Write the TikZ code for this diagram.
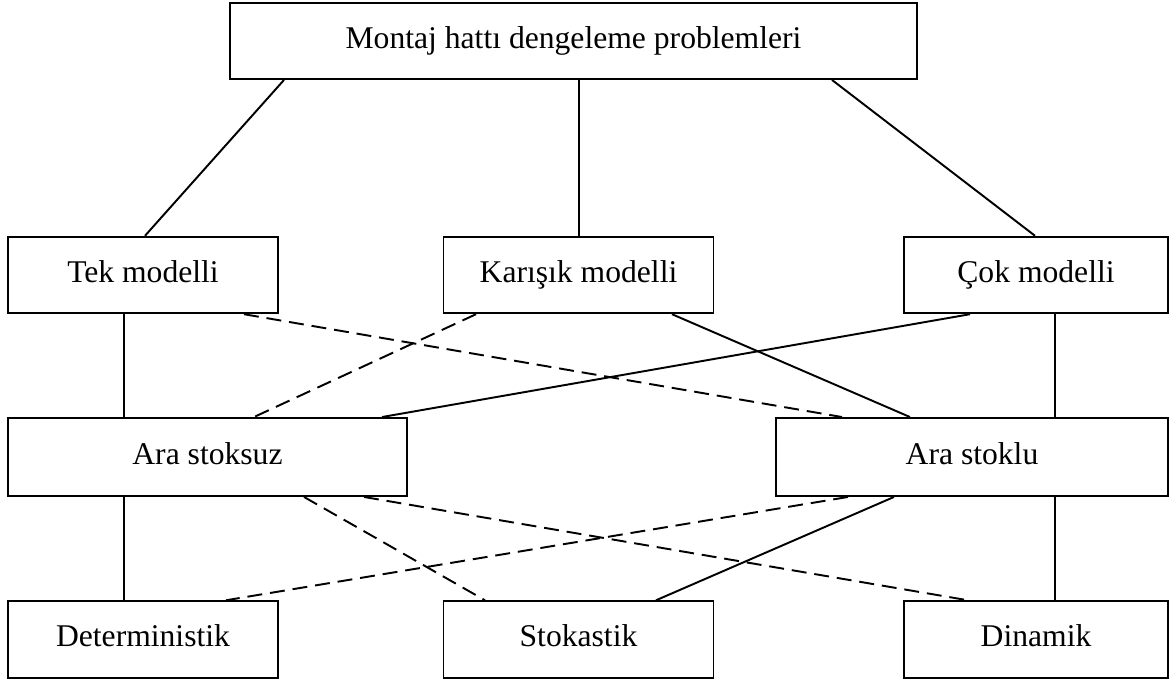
\documentclass[tikz,border=0pt]{standalone}
\usepackage{fontspec}
\setmainfont{Liberation Serif}
\usetikzlibrary{calc}

\begin{document}
\begin{tikzpicture}[x=0.02cm,y=-0.02cm,
  box/.style={draw,line width=1.1pt,inner sep=0pt,text height=0.82em,text depth=0.02em,font=\fontsize{18}{21}\selectfont},
  narrow/.style={box,minimum width=5.4cm,minimum height=1.53cm},
  wide/.style={box,minimum height=1.56cm},
  firm/.style={line width=1.1pt},
  loose/.style={line width=1.1pt,dash pattern=on 8.5pt off 4.5pt}]
\useasboundingbox (0,0) rectangle (1174,682);
% root
\node[box,minimum width=13.74cm,minimum height=1.52cm] (top) at (573.5,41) {Montaj hattı dengeleme problemleri};
% model types
\node[narrow] (tek) at (143,275) {Tek modelli};
\node[narrow] (kar) at (578.5,275) {Karışık modelli};
\node[narrow,minimum width=5.28cm] (cok) at (1036,275) {Çok modelli};
% buffers
\node[wide,minimum width=7.98cm] (stoksuz) at (207.5,457) {Ara stoksuz};
\node[wide,minimum width=7.84cm] (stoklu) at (972,457) {Ara stoklu};
% task times
\node[narrow] (det) at (143,639.5) {Deterministik};
\node[narrow] (stok) at (578.5,639.5) {Stokastik};
\node[narrow,minimum width=5.28cm] (din) at (1036,639.5) {Dinamik};
\draw[firm] ($(top.south)+(-289.5,0)$)--($(tek.north)+(2,0)$);
\draw[firm] ($(top.south)+(5.5,0)$)--($(kar.north)+(0.5,0)$);
\draw[firm] ($(top.south)+(258.5,0)$)--($(cok.north)+(-1,0)$);
\draw[firm] ($(tek.south)+(-19,0)$)--($(stoksuz.north)+(-83.5,0)$);
\draw[loose] ($(tek.south)+(101,0)$)--($(stoklu.north)+(-130,0)$);
\draw[loose] ($(kar.south)+(-102.5,0)$)--($(stoksuz.north)+(46.5,0)$);
\draw[firm] ($(kar.south)+(93.5,0)$)--($(stoklu.north)+(-62,0)$);
\draw[firm] ($(cok.south)+(-66,0)$)--($(stoksuz.north)+(174.5,0)$);
\draw[firm] ($(cok.south)+(19,0)$)--($(stoklu.north)+(83,0)$);
\draw[firm] ($(stoksuz.south)+(-83.5,0)$)--($(det.north)+(-19,0)$);
\draw[loose] ($(stoksuz.south)+(96.5,0)$)--($(stok.north)+(-93.5,0)$);
\draw[loose] ($(stoksuz.south)+(156.5,0)$)--($(din.north)+(-68,0)$);
\draw[loose] ($(stoklu.south)+(-124,0)$)--($(det.north)+(83,0)$);
\draw[firm] ($(stoklu.south)+(-78,0)$)--($(stok.north)+(77.5,0)$);
\draw[firm] ($(stoklu.south)+(83,0)$)--($(din.north)+(19,0)$);
\end{tikzpicture}
\end{document}
